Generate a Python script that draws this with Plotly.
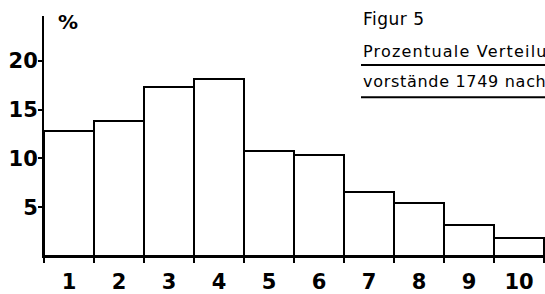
import plotly.graph_objects as go

# Data
categories = [1, 2, 3, 4, 5, 6, 7, 8, 9, 10]
percent = [12.8, 13.8, 17.3, 18.1, 10.8, 10.4, 6.6, 5.4, 3.2, 1.8]
x_tick_labels = ["1", "2", "3", "4", "5", "6", "7", "8", "9", "10"]
y_tick_vals = [5, 10, 15, 20]
y_tick_labels = ["5", "10", "15", "20"]
bin_edges = [c - 0.5 for c in categories] + [categories[-1] + 0.5]

title_line0 = "Figur 5"
title_line1 = "Prozentuale Verteilung"
title_line2 = "vorstände 1749 nach"

W, H = 545, 294
ML, MR, MT, MB = 44, 0, 16, 33
pw, ph = W - ML - MR, H - MT - MB

def px(x):
    return (x - ML) / pw

def py(y):
    return (H - MB - y) / ph

def spaced(s, sp):
    return '<span style="letter-spacing:%spx">%s</span>' % (sp, s)

tick_font = dict(family="DejaVu Sans", size=21, color="black", weight="bold")
text_font = dict(family="DejaVu Sans", size=16, color="black")

fig = go.Figure()
fig.add_trace(go.Bar(
    x=categories, y=percent, width=1,
    marker=dict(color="white", line=dict(color="black", width=2)),
    showlegend=False, hoverinfo="skip",
))

fig.update_layout(
    width=W, height=H,
    margin=dict(l=ML, r=MR, t=MT, b=MB, pad=0),
    paper_bgcolor="white", plot_bgcolor="white",
    bargap=0,
    xaxis=dict(
        range=[0.5, 10.52],
        tickmode="array", tickvals=categories, ticktext=x_tick_labels,
        ticks="", showgrid=False, zeroline=False,
        showline=True, linecolor="black", linewidth=2,
        tickfont=tick_font, ticklabelstandoff=6,
        minor=dict(tickmode="array", tickvals=bin_edges, ticks="outside",
                   ticklen=5, tickwidth=2, tickcolor="black", showgrid=False),
    ),
    yaxis=dict(
        range=[0, 24.6],
        tickmode="array", tickvals=y_tick_vals, ticktext=y_tick_labels,
        ticks="outside", ticklen=4, tickwidth=2, tickcolor="black",
        showgrid=False, zeroline=False,
        showline=True, linecolor="black", linewidth=2,
        tickfont=tick_font, ticklabelstandoff=-4,
    ),
    font=dict(family="DejaVu Sans", color="black"),
)

annotations = [
    dict(text="%", x=px(68), y=py(22), xref="paper", yref="paper",
         showarrow=False, font=dict(family="DejaVu Sans", size=20, color="black", weight="bold"),
         xanchor="center", yanchor="middle"),
    dict(text=spaced(title_line0, 0.5), x=px(361), y=py(19), xref="paper", yref="paper",
         showarrow=False, font=dict(family="DejaVu Sans", size=17, color="black"),
         xanchor="left", yanchor="middle"),
    dict(text=spaced(title_line1, 1.2), x=px(361), y=py(52), xref="paper", yref="paper",
         showarrow=False, font=text_font, xanchor="left", yanchor="middle"),
    dict(text=spaced(title_line2, 0.7), x=px(361), y=py(83), xref="paper", yref="paper",
         showarrow=False, font=text_font, xanchor="left", yanchor="middle"),
]
fig.update_layout(annotations=annotations)

for yy in (66, 99):
    fig.add_shape(type="line", xref="paper", yref="paper",
                  x0=px(361), x1=px(548), y0=py(yy), y1=py(yy),
                  line=dict(color="black", width=2))

fig.write_html("out.html", config={"displayModeBar": False},
               post_script="document.body.style.margin='0';document.body.style.overflow='hidden';")
